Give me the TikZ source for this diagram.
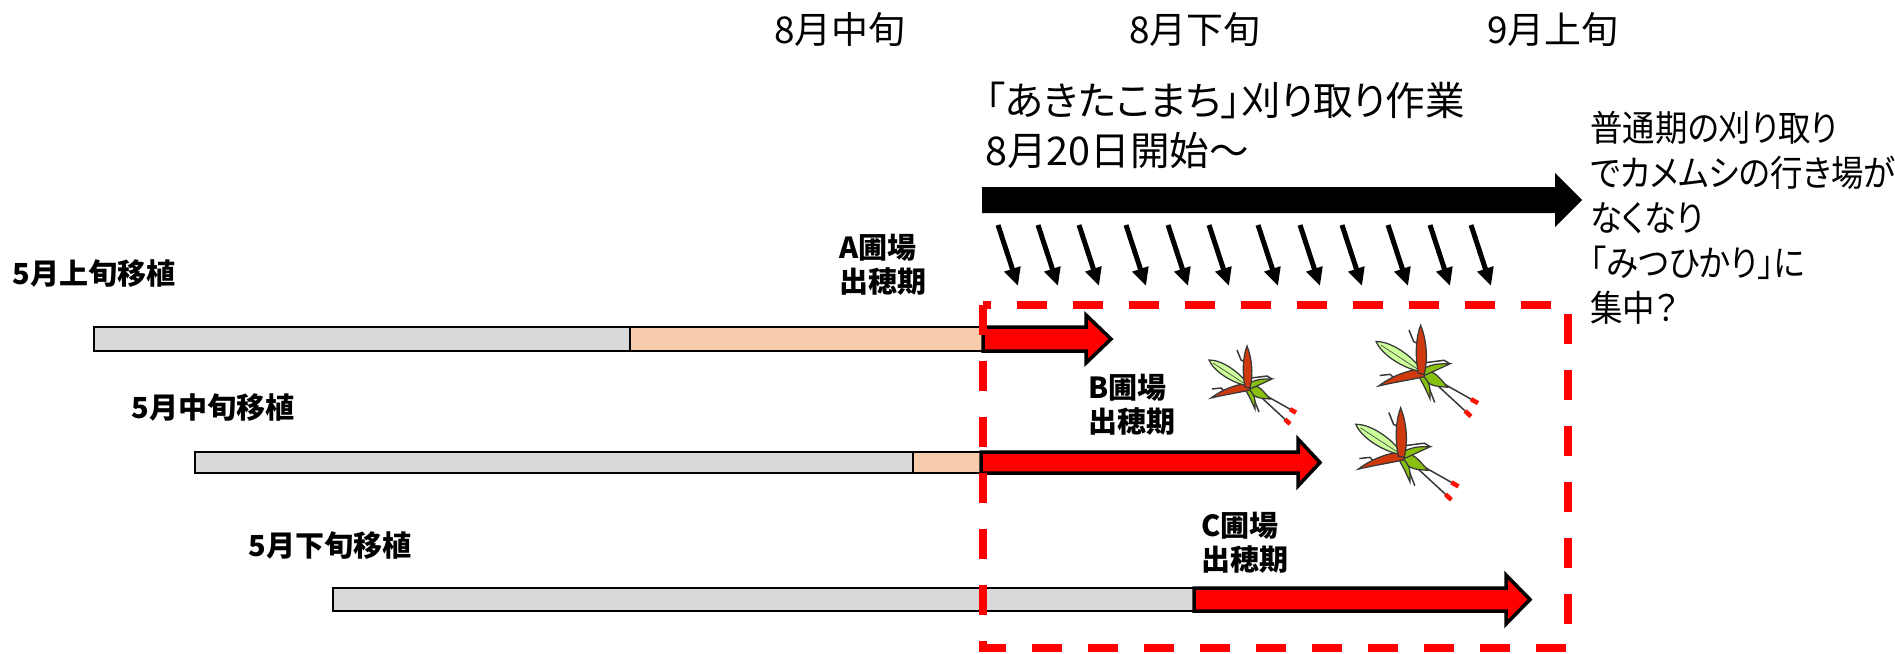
\documentclass[tikz,border=0pt]{standalone}
\usepackage{fontspec}
\usetikzlibrary{arrows.meta}
\newfontfamily\jp[RawFeature=+palt]{Noto Sans CJK JP}
\newfontfamily\jpnarrow[RawFeature=+palt, FakeStretch=0.9]{Noto Sans CJK JP}
\definecolor{barGray}{HTML}{D9D9D9}
\definecolor{barPeach}{HTML}{F8CBAD}
\definecolor{bugWing}{HTML}{CCFF99}
\definecolor{bugGreen}{HTML}{88C010}
\definecolor{bugRed}{HTML}{D0380E}
\definecolor{bugLine}{HTML}{383838}
\begin{document}
\begin{tikzpicture}[
        x=0.2mm, y=-0.2mm,
        month/.style={font=\jp\fontsize{21}{25}\selectfont, inner sep=0},
        note/.style={font=\jp\fontsize{22.5}{28.5}\selectfont, align=left, anchor=west, inner sep=0},
        side/.style={font=\jpnarrow\fontsize{20.5}{25.6}\selectfont, align=left, anchor=west, inner sep=0},
        plant/.style={font=\jp\bfseries\fontsize{16.5}{19.5}\selectfont, inner sep=0},
        field/.style={font=\jp\bfseries\fontsize{16.5}{19.3}\selectfont, align=left, anchor=west, inner sep=0},
        bar/.style={draw=black, line width=0.5mm},
        ripe/.style={fill=red, draw=black, line width=0.7mm},
        drop/.style={-{Triangle[length=3.6mm,width=3.2mm]}, line width=1mm},
        zone/.style={draw=red, line width=1.6mm, dash pattern=on 6mm off 5.2mm},
        bugpart/.style={draw=bugLine, line width=0.25mm},
        bugleg/.style={draw=bugLine, line width=0.3mm},
        bug/.pic={
            % thin legs
            \draw[bugleg] (0,0) -- (46,26);
            \draw[bugleg] (0,0) -- (40,37);
            \draw[bugleg] (-12,-36) -- (-8,-26) -- (-2,-23);
            \draw[bugleg] (-37,3) -- (-28,2) -- (-24,6);
            \draw[bugleg] (2,-8) -- (18,-10) -- (23,-7);
            \draw[bugleg] (1,3) -- (10,26);
            \draw[red!85!orange, line width=0.9mm] (41,23.2) -- (47,26.6);
            \draw[red!85!orange, line width=0.9mm] (36,33.3) -- (41,38);
            % body and green legs
            \filldraw[bugpart, fill=bugGreen] (-2,-2) .. controls (10,0) .. (21,13) .. controls (8,12) .. (-2,5) -- cycle;
            \filldraw[bugpart, fill=bugGreen] (0,-3) .. controls (10,-7) .. (23,-7) .. controls (10,-1) .. (1,3) -- cycle;
            \filldraw[bugpart, fill=bugGreen] (-1,2) .. controls (6,10) .. (6,23) .. controls (1,12) .. (-4,3) -- cycle;
            % red legs
            \filldraw[bugpart, fill=bugRed] (1,-3) .. controls (-12,-2) and (-26,3) .. (-38,12) .. controls (-26,9) and (-12,7) .. (1,4) -- cycle;
            % wing
            \filldraw[bugpart, fill=bugWing] (-40,-26) .. controls (-27.8,-26.4) and (-8.8,-14) .. (0,0)
                .. controls (-16.4,-2.4) and (-35.4,-14.7) .. (-40,-26) -- cycle;
            \draw[bugLine, line width=0.12mm] (-36,-23) -- (-4,-2);
            % red spike
            \filldraw[bugpart, fill=bugRed] (1,2) .. controls (5,-14) and (2,-30) .. (-2,-40) .. controls (-6,-30) and (-7,-14) .. (-4,1) -- cycle;
        }
    ]

    \useasboundingbox (0,0) rectangle (1895,653);

    % Month marks
    \node[month] (m1) at (840,30) {8月中旬};
    \node[month] (m2) at (1195,30) {8月下旬};
    \node[month] (m3) at (1553,30) {9月上旬};

    % Harvest of akitakomachi
    \node[note] (harvest) at (985,125) {「あきたこまち」刈り取り作業\\8月20日開始～};
    \fill (982,187) -- (1555,187) -- (1555,173) -- (1582,200) -- (1555,227) -- (1555,213) -- (982,213) -- cycle;
    \node[side] (comment) at (1590,218) {普通期の刈り取り\\でカメムシの行き場が\\なくなり\\「みつひかり」に\\集中？};

    % Stink bugs pushed out of the fields
    \foreach \x [count=\i] in {998,1038,1079,1126,1168,1209,1258,1300,1342,1388,1430,1471} {
        \coordinate (s\i) at (\x,225);
        \coordinate (e\i) at (\x+20,286);
        \draw[drop] (s\i) -- (e\i);
    }

    % 5月上旬移植
    \node[plant] (plantA) at (94,274) {5月上旬移植};
    \draw[bar, fill=barGray] (94,327) rectangle (630,351);
    \draw[bar, fill=barPeach] (630,327) rectangle (983,351);
    \filldraw[ripe] (983,327) -- (1086,327) -- (1086,315) -- (1111,339) -- (1086,363) -- (1086,351) -- (983,351) -- cycle;
    \node[field] (headA) at (839,265) {A圃場\\出穂期};

    % 5月中旬移植
    \node[plant] (plantB) at (213,408) {5月中旬移植};
    \draw[bar, fill=barGray] (195,452) rectangle (913,473);
    \draw[bar, fill=barPeach] (913,452) rectangle (981,473);
    \filldraw[ripe] (981,452) -- (1298,452) -- (1298,439) -- (1320,462.5) -- (1298,486) -- (1298,473) -- (981,473) -- cycle;
    \node[field] (headB) at (1088,405) {B圃場\\出穂期};

    % 5月下旬移植
    \node[plant] (plantC) at (330,546) {5月下旬移植};
    \draw[bar, fill=barGray] (333,588) rectangle (1194,611);
    \filldraw[ripe] (1194,588) -- (1506,588) -- (1506,575) -- (1530,599.5) -- (1506,624) -- (1506,611) -- (1194,611) -- cycle;
    \node[field] (headC) at (1201,543) {C圃場\\出穂期};

    % Area where the bugs gather
    \draw[zone] (983,305) rectangle (1568,648);
    \pic at (1249,386) {bug};
    \pic[scale=1.17] at (1423,372) {bug};
    \pic[scale=1.18] at (1403,455) {bug};

\end{tikzpicture}
\end{document}
